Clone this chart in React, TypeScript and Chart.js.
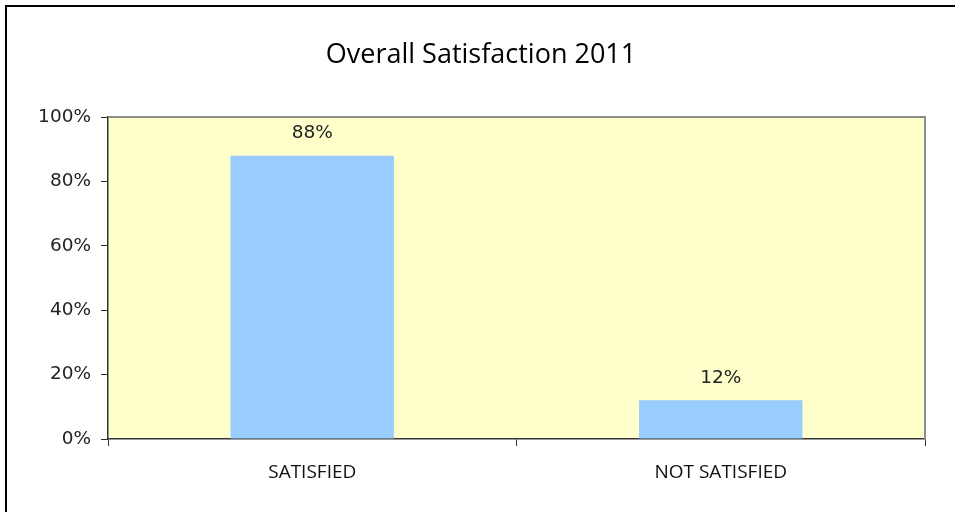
import React, { useEffect, useRef } from "react";
import { Chart, registerables } from "chart.js";

Chart.register(...registerables);

const categories: string[] = ["SATISFIED", "NOT SATISFIED"];
const satisfactionValues: number[] = [0.88, 0.12];
const valueLabels: string[] = ["88%", "12%"];
const yTickLabels: string[] = ["0%", "20%", "40%", "60%", "80%", "100%"];
const chartTitle = "Overall Satisfaction 2011";

const FONT = "'Open Sans', 'Noto Sans', sans-serif";
const NUM_FONT = "'DejaVu Sans', sans-serif";

export default function App() {
  const ref = useRef<HTMLCanvasElement | null>(null);

  useEffect(() => {
    if (!ref.current) return;
    const plotBg = {
      id: "plotBg",
      beforeDraw(chart: any) {
        const { ctx, chartArea: a } = chart;
        ctx.save();
        ctx.fillStyle = "#FFFFCC";
        ctx.fillRect(a.left, a.top, a.right - a.left, a.bottom - a.top);
        ctx.restore();
      },
      afterDatasetsDraw(chart: any) {
        const { ctx, chartArea: a } = chart;
        ctx.save();
        ctx.strokeStyle = "#8c8c8c";
        ctx.lineWidth = 2;
        ctx.beginPath();
        ctx.moveTo(a.left, a.top);
        ctx.lineTo(a.right, a.top);
        ctx.lineTo(a.right, a.bottom);
        ctx.stroke();
        // title
        ctx.fillStyle = "#000";
        ctx.font = `27px ${FONT}`;
        ctx.textAlign = "center";
        ctx.textBaseline = "alphabetic";
        ctx.fillText(chartTitle, 481, 63);
        // value labels
        const meta = chart.getDatasetMeta(0);
        ctx.font = `18.5px ${NUM_FONT}`;
        ctx.fillStyle = "#222";
        ctx.textBaseline = "middle";
        meta.data.forEach((bar: any, i: number) => {
          ctx.fillText(valueLabels[i], bar.x, bar.y - 22);
        });
        ctx.restore();
      },
    };

    const chart = new Chart(ref.current, {
      type: "bar",
      data: {
        labels: categories,
        datasets: [
          {
            data: satisfactionValues,
            backgroundColor: "#99CCFF",
            barPercentage: 0.4,
            categoryPercentage: 1.0,
          },
        ],
      },
      options: {
        animation: false,
        responsive: false,
        maintainAspectRatio: false,
        layout: { padding: { top: 117, right: 30, left: 0, bottom: 0 } },
        plugins: {
          legend: { display: false },
          title: { display: false },
          tooltip: { enabled: false },
        },
        scales: {
          x: {
            grid: {
              display: true,
              drawOnChartArea: false,
              drawTicks: true,
              tickLength: 7,
              color: "#333",
              offset: true,
            },
            border: { display: true, color: "#333", width: 1.5 },
            ticks: {
              color: "#111",
              font: { family: FONT, size: 19 },
              padding: 15,
            },
            afterFit(scale: any) {
              scale.height = 73;
            },
          },
          y: {
            min: 0,
            max: 1,
            grid: {
              display: true,
              drawOnChartArea: false,
              drawTicks: true,
              tickLength: 7,
              color: "#333",
            },
            border: { display: true, color: "#333", width: 1.5 },
            ticks: {
              stepSize: 0.2,
              color: "#222",
              font: { family: NUM_FONT, size: 18.5 },
              padding: 10,
              callback: (_v: any, i: number) => yTickLabels[i],
            },
            afterFit(scale: any) {
              scale.width = 108;
            },
          },
        },
      },
      plugins: [plotBg],
    });
    return () => chart.destroy();
  }, []);

  return (
    <div
      style={{
        position: "fixed",
        left: 0,
        top: 0,
        width: 955,
        height: 512,
        overflow: "hidden",
        background: "#fff",
      }}
    >
      <div
        style={{
          position: "absolute",
          left: 5,
          top: 5,
          width: 980,
          height: 540,
          border: "2px solid #000",
        }}
      />
      <canvas
        ref={ref}
        width={955}
        height={512}
        style={{ position: "absolute", left: 0, top: 0, width: 955, height: 512 }}
      />
    </div>
  );
}
